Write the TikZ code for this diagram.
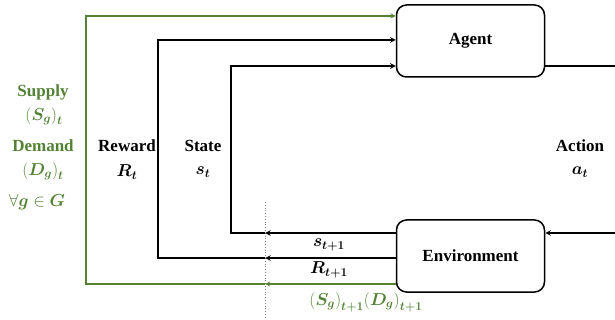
\documentclass[tikz,border=0pt]{standalone}
\usepackage{fontspec}
\setmainfont{Liberation Serif}
\usepackage{bm}
\definecolor{supgreen}{RGB}{84,130,53}
\tikzset{
    box/.style={draw, rounded corners=10pt, line width=1.5pt, minimum width=148pt, minimum height=72pt, font=\bfseries},
    flow/.style={line width=1.5pt, ->},
    gflow/.style={supgreen, line width=1.3pt, ->},
    lbl/.style={font=\bfseries},
}
\begin{document}
\fontsize{17}{19}\selectfont
\begin{tikzpicture}[x=1pt, y=-1pt, >=stealth]
                    \useasboundingbox (0,0) rectangle (615,320);
                    \node (agent) at (470.5,41) [box] {Agent};
                    \node (env) at (470.5,256) [box] {Environment};
                    % corners of the feedback loops
                    \coordinate (gtop) at (86,16);
                    \coordinate (gbot) at (86,284);
                    \coordinate (gmid) at (265,284);
                    \coordinate (rtop) at (158,40);
                    \coordinate (rbot) at (158,258);
                    \coordinate (rmid) at (265,258);
                    \coordinate (stop) at (231,66);
                    \coordinate (sbot) at (231,233);
                    \coordinate (smid) at (265,233);
                    \coordinate (atop) at (619,66);
                    \coordinate (abot) at (619,233);
                    \coordinate (cuttop) at (265,202);
                    \coordinate (cutbot) at (265,317);
                    \draw[gray, dotted, line width=0.8pt] (cuttop) -- (cutbot);
                    \draw[gflow] (env.west |- gmid) -- (gmid);
                    \draw[gflow] (gmid) -- (gbot) -- (gtop) -- (agent.west |- gtop);
                    \draw[flow] (env.west |- rmid) -- (rmid);
                    \draw[flow] (rmid) -- (rbot) -- (rtop) -- (agent.west |- rtop);
                    \draw[flow] (env.west |- smid) -- (smid);
                    \draw[flow] (smid) -- (sbot) -- (stop) -- (agent.west |- stop);
                    \draw[flow] (agent.east |- atop) -- (atop) -- (abot) -- (env.east |- abot);
                    % labels
                    \node (supply) at (43,92) [lbl, supgreen] {Supply};
                    \node (supt) at (44,116) [supgreen] {$\bigl(\bm{S_g}\bigr)_{\bm{t}}$};
                    \node (demand) at (43,146) [lbl, supgreen] {Demand};
                    \node (demt) at (43,171) [supgreen] {$\bigl(\bm{D_g}\bigr)_{\bm{t}}$};
                    \node (allg) at (37,202) [supgreen] {$\forall\bm{g}\in\bm{G}$};
                    \node (reward) at (127,146) [lbl] {Reward};
                    \node (rt) at (127,172) {$\bm{R_t}$};
                    \node (state) at (203,146) [lbl] {State};
                    \node (st) at (203,172) {$\bm{s_t}$};
                    \node (action) at (580,146) [lbl] {Action};
                    \node (at) at (580,172) {$\bm{a_t}$};
                    \node (snext) at (329,245) {$\bm{s_{t+1}}$};
                    \node (rnext) at (329,270) {$\bm{R_{t+1}}$};
                    \node (sdnext) at (366,302) [supgreen] {$\bigl(\bm{S_g}\bigr)_{\bm{t+1}}\bigl(\bm{D_g}\bigr)_{\bm{t+1}}$};
                \end{tikzpicture}
\end{document}
